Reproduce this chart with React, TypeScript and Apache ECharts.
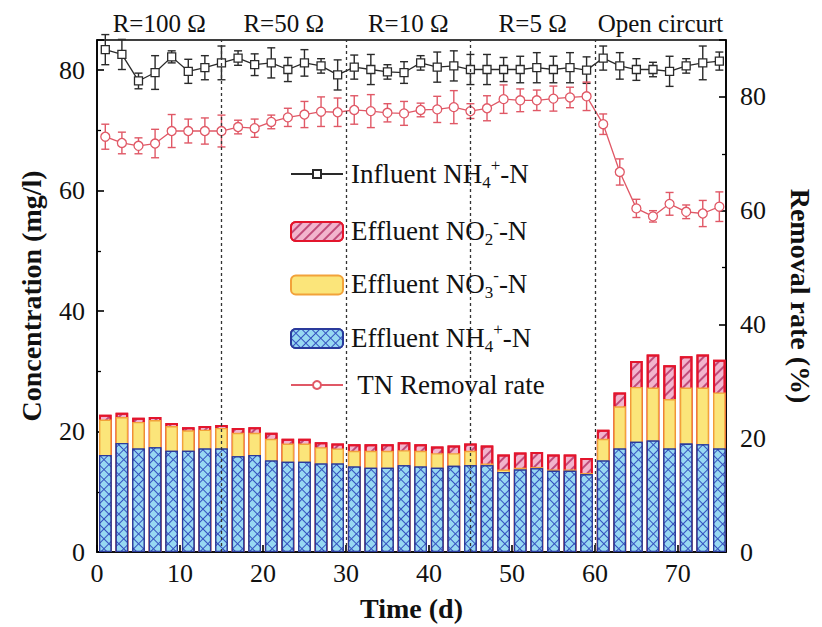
import React, { useEffect, useRef } from 'react';
import * as echarts from 'echarts';

// ---------------- data ----------------
const days = [1, 3, 5, 7, 9, 11, 13, 15, 17, 19, 21, 23, 25, 27, 29, 31, 33, 35, 37, 39, 41, 43, 45, 47, 49, 51, 53, 55, 57, 59, 61, 63, 65, 67, 69, 71, 73, 75];

const influentNH4 = [83.4, 82.6, 78.2, 79.6, 82.2, 79.8, 80.4, 81.2, 82.0, 80.9, 81.2, 80.1, 81.2, 80.7, 79.2, 80.5, 80.1, 79.7, 79.6, 81.2, 80.5, 80.7, 80.1, 80.1, 80.1, 80.1, 80.4, 80.1, 80.4, 80.0, 82.0, 80.7, 80.1, 80.1, 79.8, 80.7, 81.2, 81.5];
const influentErr = [2.5, 2.5, 1.3, 2.8, 1.0, 2.0, 2.0, 2.8, 1.2, 1.8, 2.5, 2.0, 2.2, 1.2, 2.5, 2.0, 2.5, 1.2, 1.8, 1.2, 2.5, 2.5, 2.5, 2.5, 2.0, 2.2, 2.5, 2.2, 2.5, 2.2, 2.0, 2.2, 1.8, 1.2, 2.5, 1.2, 2.8, 1.5];

const tnRemoval = [73.0, 71.9, 71.4, 71.8, 74.0, 74.0, 74.0, 74.0, 74.7, 74.5, 75.6, 76.4, 76.9, 77.4, 77.3, 77.7, 77.5, 77.2, 77.1, 77.7, 77.8, 78.2, 77.5, 78.0, 79.6, 79.4, 79.4, 79.7, 79.9, 80.1, 75.2, 66.8, 60.4, 59.0, 61.2, 59.8, 59.5, 60.7];
const tnErr = [2.2, 1.9, 1.4, 2.5, 2.9, 2.1, 2.3, 2.8, 1.2, 1.6, 1.2, 1.6, 2.3, 2.6, 2.5, 2.5, 2.9, 1.6, 2.1, 1.2, 2.3, 2.9, 1.3, 2.2, 2.5, 2.0, 1.8, 2.2, 1.8, 2.5, 1.8, 2.3, 1.6, 1.0, 2.0, 1.2, 2.3, 2.6];

const effluentNH4 = [16.1, 18.1, 17.2, 17.4, 16.8, 16.8, 17.2, 17.2, 15.9, 16.1, 15.2, 15.0, 15.0, 14.7, 14.7, 14.2, 14.0, 14.0, 14.4, 14.2, 14.0, 14.3, 14.4, 14.4, 13.3, 13.7, 13.9, 13.5, 13.5, 12.9, 15.2, 17.2, 18.3, 18.5, 17.2, 18.0, 17.9, 17.2];
const effluentNO3 = [5.9, 4.3, 4.4, 4.5, 4.1, 3.4, 3.1, 3.4, 3.9, 3.7, 3.6, 3.0, 3.0, 2.7, 2.5, 2.6, 2.8, 2.8, 2.5, 2.6, 2.4, 2.1, 2.4, 0.3, 0.4, 0.3, 0.2, 0.2, 0.2, 0.2, 3.6, 7.0, 9.1, 8.8, 8.2, 9.3, 9.4, 9.3];
const effluentNO2 = [0.8, 0.7, 0.7, 0.5, 0.5, 0.5, 0.6, 0.5, 0.8, 0.9, 1.0, 0.8, 0.8, 0.8, 0.8, 1.1, 1.1, 1.1, 1.3, 1.1, 1.1, 1.3, 1.2, 3.0, 2.5, 2.5, 2.5, 2.5, 2.5, 2.5, 1.5, 2.3, 4.3, 5.5, 5.6, 5.2, 5.5, 5.4];

const phaseBounds = [0, 15, 30, 45, 60, 75.8];
const phaseLabels = ['R=100 Ω', 'R=50 Ω', 'R=10 Ω', 'R=5 Ω', 'Open circurt'];

const leftTicks = [0, 20, 40, 60, 80];
const bottomTicks = [0, 10, 20, 30, 40, 50, 60, 70];

const seriesNames = ['Influent NH4+-N', 'Effluent NO2--N', 'Effluent NO3--N', 'Effluent NH4+-N', 'TN Removal rate'];
const legendRich = [
  'Influent NH{sub|4}{sup|+}-N',
  'Effluent NO{sub|2}{sup|-}-N',
  'Effluent NO{sub|3}{sup|-}-N',
  'Effluent NH{sub|4}{sup|+}-N',
  ' TN Removal rate',
];

// ---------------- styles ----------------
const FONT = '"Liberation Serif", "Times New Roman", serif';
const BLACK = '#2a2a2a';
const RED = '#e05866';

const pair = (vals: number[]) => days.map((d, i) => [d, vals[i]]);
const errData = (vals: number[], errs: number[]) => days.map((d, i) => [d, vals[i] - errs[i], vals[i] + errs[i]]);
// cumulative tops of the stacked effluent bars (drawn as overlapping bars, back to front)
const cumNO3 = effluentNH4.map((v, i) => +(v + effluentNO3[i]).toFixed(2));
const cumNO2 = cumNO3.map((v, i) => +(v + effluentNO2[i]).toFixed(2));

const errRender = (color: string) => (params: any, api: any) => {
  const x = api.value(0);
  const lo = api.coord([x, api.value(1)]);
  const hi = api.coord([x, api.value(2)]);
  const w = 4;
  const style = { stroke: color, lineWidth: 1.4 };
  return {
    type: 'group',
    children: [
      { type: 'line', shape: { x1: lo[0], y1: lo[1], x2: hi[0], y2: hi[1] }, style },
      { type: 'line', shape: { x1: lo[0] - w, y1: lo[1], x2: lo[0] + w, y2: lo[1] }, style },
      { type: 'line', shape: { x1: hi[0] - w, y1: hi[1], x2: hi[0] + w, y2: hi[1] }, style },
    ],
  };
};

const tickFmt = (allowed: number[]) => (v: number) =>
  allowed.some((a) => Math.abs(a - v) < 1e-6) ? String(Math.round(v)) : '';

export default function App() {
  const ref = useRef<HTMLDivElement>(null);

  useEffect(() => {
    document.body.style.margin = '0';
    const chart = echarts.init(ref.current!, null, { renderer: 'svg' });

    const gridL = 97, gridT = 40, gridR = 727, gridB = 552;

    const axisCommon = {
      axisLine: { show: true, lineStyle: { color: '#000', width: 1.6 } },
      axisTick: { show: true, inside: true, length: 7, lineStyle: { color: '#000', width: 1.6 } },
      minorTick: { show: true, splitNumber: 2, length: 4, lineStyle: { color: '#000', width: 1.3 } },
      splitLine: { show: false },
      nameTextStyle: { fontFamily: FONT, fontSize: 28, fontWeight: 'bold', color: '#111' },
    };

    const barW = 12.6;

    const legendCenters = [174, 230.5, 284, 337.5, 385];
    const legends = seriesNames.map((name, i) => {
      const isLine = i === 0 || i === 4;
      const h = isLine ? 10 : 19;
      return {
        data: [name],
        left: 290,
        top: legendCenters[i] - h / 2,
        itemWidth: 52,
        itemHeight: h,
        padding: 0,
        selectedMode: false,
        formatter: () => '',
        textStyle: { fontSize: 1 },
      };
    });

    const legendTexts = legendRich.map((t, i) => ({
      type: 'text',
      x: 351,
      y: legendCenters[i],
      z: 100,
      style: {
        text: t,
        fontFamily: FONT,
        fontSize: 27,
        fill: '#111',
        verticalAlign: 'middle',
        rich: {
          sub: { fontFamily: FONT, fontSize: 17, padding: [17, 0, 0, 0], fill: '#111' },
          sup: { fontFamily: FONT, fontSize: 17, padding: [0, 0, 17, 0], fill: '#111' },
        },
      },
    }));

    const barBase = { type: 'bar', barWidth: barW, barGap: '-100%', z: 1, yAxisIndex: 0 };

    const option: any = {
      animation: false,
      backgroundColor: '#fff',
      grid: {
        left: gridL, top: gridT, width: gridR - gridL, height: gridB - gridT,
        show: true, borderColor: '#000', borderWidth: 1.6, backgroundColor: 'transparent',
      },
      legend: legends,
      xAxis: {
        type: 'value', min: 0, max: 75.8, interval: 10,
        name: 'Time (d)', nameLocation: 'middle', nameGap: 42,
        ...axisCommon,
        axisLabel: { fontFamily: FONT, fontSize: 26, color: '#111', margin: 8, formatter: tickFmt(bottomTicks), showMaxLabel: false },
      },
      yAxis: [
        {
          type: 'value', min: 0, max: 85, interval: 20, position: 'left',
          name: 'Concentration (mg/l)', nameLocation: 'middle', nameGap: 52, nameRotate: 90,
          ...axisCommon,
          axisLabel: { fontFamily: FONT, fontSize: 26, color: '#111', margin: 12, formatter: tickFmt(leftTicks) },
        },
        {
          type: 'value', min: 0, max: 90, interval: 20, position: 'right',
          name: 'Removal rate (%)', nameLocation: 'middle', nameGap: 60, nameRotate: -90,
          ...axisCommon,
          axisLabel: { fontFamily: FONT, fontSize: 26, color: '#111', margin: 14, formatter: tickFmt(leftTicks) },
        },
      ],
      series: [
        {
          ...barBase, name: seriesNames[1],
          data: pair(cumNO2),
          itemStyle: {
            color: '#f2b4cd', borderColor: '#e3152c', borderWidth: 2,
            decal: { symbol: 'rect', symbolSize: 1, color: 'rgba(175,40,95,0.75)', dashArrayX: [1, 0], dashArrayY: [1.2, 4.5], rotation: -Math.PI / 4 },
          },
        },
        {
          ...barBase, name: seriesNames[2],
          data: pair(cumNO3),
          itemStyle: { color: '#fbe57a', borderColor: '#f2a23a', borderWidth: 1.4 },
        },
        {
          ...barBase, name: seriesNames[3],
          data: pair(effluentNH4),
          itemStyle: {
            color: '#3552c0', borderColor: '#2a3a9c', borderWidth: 1.3,
            decal: { symbol: 'rect', symbolSize: 1, color: '#97d8f2', dashArrayX: [5.6, 1.0], dashArrayY: [5.6, 1.0], rotation: Math.PI / 4 },
          },
        },
        {
          name: 'influentErr', type: 'custom', yAxisIndex: 0, z: 3,
          renderItem: errRender(BLACK), encode: { x: 0, y: [1, 2] },
          data: errData(influentNH4, influentErr),
          silent: true,
        },
        {
          name: 'tnErr', type: 'custom', yAxisIndex: 1, z: 3,
          renderItem: errRender(RED), encode: { x: 0, y: [1, 2] },
          data: errData(tnRemoval, tnErr),
          silent: true,
        },
        {
          name: seriesNames[0], type: 'line', yAxisIndex: 0, z: 4,
          data: pair(influentNH4),
          symbol: 'rect', symbolSize: 8, showAllSymbol: true,
          color: BLACK,
          lineStyle: { color: BLACK, width: 1.3 },
          itemStyle: { color: '#fff', borderColor: BLACK, borderWidth: 1.3 },
          markLine: {
            silent: true, symbol: 'none', label: { show: false },
            lineStyle: { color: '#333', width: 1.3, type: [3, 3] },
            data: phaseBounds.slice(1, -1).map((b) => ({ xAxis: b })),
          },
        },
        {
          name: seriesNames[4], type: 'line', yAxisIndex: 1, z: 4,
          data: pair(tnRemoval),
          symbol: 'circle', symbolSize: 9, showAllSymbol: true,
          color: RED,
          lineStyle: { color: RED, width: 1.3 },
          itemStyle: { color: '#fff', borderColor: RED, borderWidth: 1.3 },
        },
      ],
      graphic: legendTexts,
    };

    chart.setOption(option);

    const phaseTexts = phaseLabels.map((t, i) => {
      const mid = (phaseBounds[i] + phaseBounds[i + 1]) / 2;
      const px = chart.convertToPixel({ xAxisIndex: 0 } as any, mid) as unknown as number;
      return {
        type: 'text',
        x: px,
        y: 23,
        style: { text: t, fontFamily: FONT, fontSize: 25, fill: '#111', align: 'center', verticalAlign: 'middle' },
      };
    });
    chart.setOption({ graphic: [...legendTexts, ...phaseTexts] });

    return () => chart.dispose();
  }, []);

  return <div ref={ref} style={{ width: 822, height: 627 }} />;
}
